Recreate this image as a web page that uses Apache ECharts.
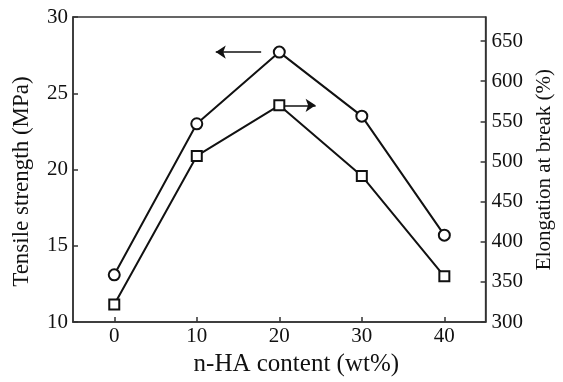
<!DOCTYPE html>
<html>
<head>
<meta charset="utf-8">
<script src="https://cdn.jsdelivr.net/npm/echarts@6/dist/echarts.min.js"></script>
<style>
  html, body { margin: 0; padding: 0; background: #fff; }
  #chart { width: 563px; height: 382px; }
</style>
</head>
<body>
<div id="chart"></div>
<script>
// n-HA content (wt%)
const haContent = [0, 10, 20, 30, 40];
// Tensile strength (MPa), left axis
const tensileStrength = [13.1, 23.0, 27.7, 23.5, 15.7];
// Elongation at break (%), right axis
const elongation = [322, 507, 570, 482, 357];
// Tick labels
const xTicks = [0, 10, 20, 30, 40];
const leftTicks = [10, 15, 20, 25, 30];
const rightTicks = [300, 350, 400, 450, 500, 550, 600, 650];
// Arrows pointing each curve to its axis
const tensileArrow = [[17.8, 27.7], [12.3, 27.7]];
const elongArrow = [[20.6, 570], [24.4, 570]];

const ink = '#111';
const frame = '#333';
const font = 'Liberation Serif';

const chart = echarts.init(document.getElementById('chart'), null, { renderer: 'canvas' });

const pair = (arr) => arr.map((v, i) => [haContent[i], v]);

const axisLineStyle = { show: true, onZero: false, lineStyle: { color: frame, width: 1.5 } };
const tickStyle = (vals) => ({ show: true, inside: true, length: 5, customValues: vals, lineStyle: { color: frame, width: 1.5 } });

const arrowLine = (pts) => ({
  silent: true,
  symbol: ['none', 'arrow'],
  symbolSize: 10,
  label: { show: false },
  itemStyle: { color: ink },
  lineStyle: { color: ink, width: 1.5, type: 'solid' },
  data: [[{ coord: pts[0] }, { coord: pts[1] }]]
});

chart.setOption({
  animation: false,
  backgroundColor: '#fff',
  grid: {
    left: 73, right: 65, top: 17, bottom: 52,
    show: true, borderColor: frame, borderWidth: 1.5
  },
  xAxis: {
    type: 'value', min: -5, max: 45,
    name: 'n-HA content (wt%)',
    nameLocation: 'middle', nameGap: 26,
    nameTextStyle: { fontFamily: font, fontSize: 25, color: ink, padding: [0, 0, 0, 34] },
    axisLine: axisLineStyle,
    axisTick: tickStyle(xTicks),
    axisLabel: { customValues: xTicks, fontFamily: font, fontSize: 21, color: ink, margin: 4 },
    splitLine: { show: false }
  },
  yAxis: [
    {
      type: 'value', min: 10, max: 30, interval: 5, position: 'left',
      name: 'Tensile strength (MPa)',
      nameLocation: 'middle', nameGap: 40, nameRotate: 90,
      nameTextStyle: { fontFamily: font, fontSize: 23, color: ink, padding: [0, 24, 0, 0] },
      axisLine: axisLineStyle,
      axisTick: tickStyle(leftTicks),
      axisLabel: { customValues: leftTicks, fontFamily: font, fontSize: 21, color: ink, margin: 5 },
      splitLine: { show: false }
    },
    {
      type: 'value', min: 300, max: 680, interval: 50, position: 'right',
      name: 'Elongation at break (%)',
      nameLocation: 'middle', nameGap: 43, nameRotate: 90,
      nameTextStyle: { fontFamily: font, fontSize: 21, color: ink },
      axisLine: axisLineStyle,
      axisTick: tickStyle(rightTicks),
      axisLabel: { customValues: rightTicks, fontFamily: font, fontSize: 21, color: ink, margin: 6 },
      splitLine: { show: false }
    }
  ],
  series: [
    {
      name: 'Tensile strength',
      type: 'line',
      yAxisIndex: 0,
      data: pair(tensileStrength),
      symbol: 'emptyCircle', symbolSize: 11,
      lineStyle: { color: ink, width: 2 },
      itemStyle: { color: ink, borderWidth: 1.5 },
      z: 3,
      markLine: arrowLine(tensileArrow)
    },
    {
      name: 'Elongation at break',
      type: 'line',
      yAxisIndex: 1,
      data: pair(elongation),
      symbol: 'emptyRect', symbolSize: 10,
      lineStyle: { color: ink, width: 2 },
      itemStyle: { color: ink, borderWidth: 1.5 },
      z: 3,
      markLine: arrowLine(elongArrow)
    }
  ]
});
</script>
</body>
</html>
